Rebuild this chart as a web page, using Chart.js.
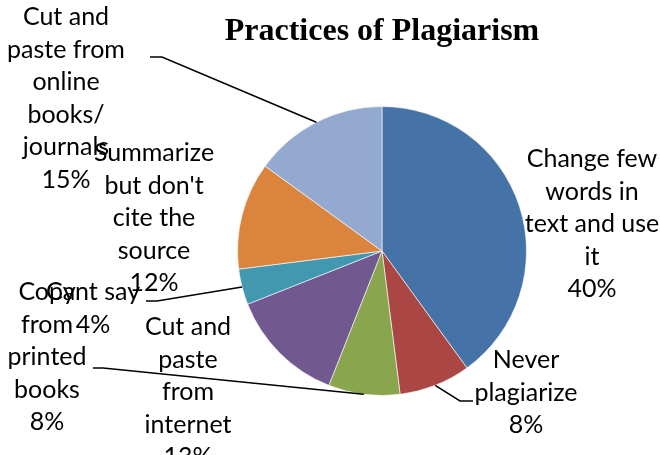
<!DOCTYPE html>
<html>
<head>
<meta charset="utf-8">
<script src="https://cdn.jsdelivr.net/npm/chart.js@4"></script>
<style>
    html, body { margin: 0; padding: 0; background: #fff; }
    #wrap { width: 660px; height: 455px; }
</style>
</head>
<body>
<div id="wrap"><canvas id="plagiarismChart" width="660" height="455"></canvas></div>
<script>
// Survey answers, clockwise from 12 o'clock
const categories = [
    ['Change few', 'words in', 'text and use', 'it'],
    ['Never', 'plagiarize'],
    ['Copy', 'from', 'printed', 'books'],
    ['Cut and', 'paste', 'from', 'internet'],
    ['Cant say'],
    ['Summarize', 'but don\'t', 'cite the', 'source'],
    ['Cut and', 'paste from', 'online', 'books/', 'journals']
];
const shares = [40, 8, 8, 13, 4, 12, 15];
const sliceColors = ['#4572A7', '#AA4643', '#89A54E', '#71588F', '#4198AF', '#DB843D', '#93A9CF'];
const chartTitle = 'Practices of Plagiarism';

// where each label block sits (center x, first baseline) and its leader elbow
const labelSpots = [
    { x: 592, y: 167 },
    { x: 526, y: 368, lead: [[473, 401], [460, 401]] },
    { x: 47, y: 300, lead: [[93, 368], [103, 368]] },
    { x: 188, y: 335 },
    { x: 93, y: 300, lead: [[146, 301], [157, 301]] },
    { x: 154, y: 161 },
    { x: 66, y: 25, lead: [[150, 57], [162, 57]] }
];
const LINE_GAP = 32.5;
const LABEL_FONT = '25px Lato, "Open Sans", sans-serif';
const TITLE_FONT = 'bold 32px "Liberation Serif", "Times New Roman", serif';

const sliceLabels = {
    id: 'sliceLabels',
    afterDraw(chart) {
        const ctx = chart.ctx;
        const meta = chart.getDatasetMeta(0);
        const values = chart.data.datasets[0].data;
        const area = chart.chartArea;

        ctx.save();
        // title, centred over the pie (wider than the plot box, so not the built-in one)
        ctx.fillStyle = '#000';
        ctx.font = TITLE_FONT;
        ctx.textAlign = 'center';
        ctx.textBaseline = 'alphabetic';
        ctx.fillText(chartTitle, (area.left + area.right) / 2, 40);

        // leader lines
        ctx.strokeStyle = '#000';
        ctx.lineWidth = 1.5;
        meta.data.forEach((arc, i) => {
            const spot = labelSpots[i];
            if (!spot.lead) return;
            const p = arc.getProps(['x', 'y', 'startAngle', 'endAngle', 'outerRadius'], true);
            const mid = (p.startAngle + p.endAngle) / 2;
            const ex = p.x + Math.cos(mid) * p.outerRadius;
            const ey = p.y + Math.sin(mid) * p.outerRadius;
            ctx.beginPath();
            ctx.moveTo(spot.lead[0][0], spot.lead[0][1]);
            ctx.lineTo(spot.lead[1][0], spot.lead[1][1]);
            ctx.lineTo(ex, ey);
            ctx.stroke();
        });

        // label text: name lines then the share
        ctx.font = LABEL_FONT;
        chart.data.labels.forEach((lines, i) => {
            const spot = labelSpots[i];
            const all = lines.concat([values[i] + '%']);
            all.forEach((txt, k) => {
                ctx.fillText(txt, spot.x, spot.y + k * LINE_GAP);
            });
        });
        ctx.restore();
    }
};

new Chart(document.getElementById('plagiarismChart'), {
    type: 'pie',
    data: {
        labels: categories,
        datasets: [{
            data: shares,
            backgroundColor: sliceColors,
            borderColor: 'rgba(255,255,255,0.6)',
            borderWidth: 1
        }]
    },
    options: {
        responsive: false,
        animation: false,
        layout: {
            padding: { left: 237, right: 133, top: 106, bottom: 59 }
        },
        plugins: {
            legend: { display: false },
            tooltip: { enabled: false },
            title: { display: false }
        }
    },
    plugins: [sliceLabels]
});
</script>
</body>
</html>
